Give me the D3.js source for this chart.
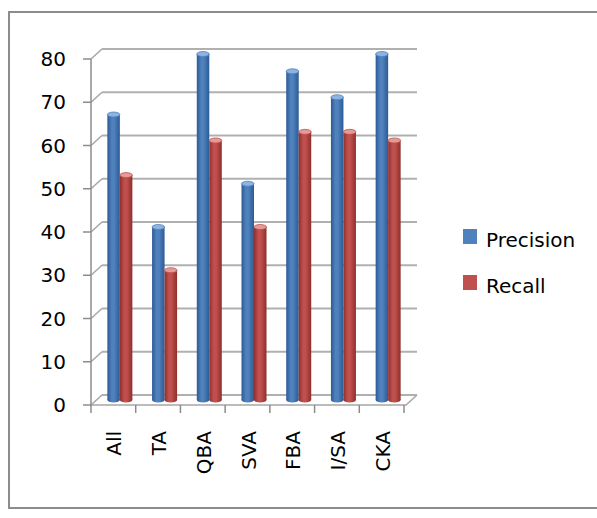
<!DOCTYPE html>
<html>
<head>
<meta charset="utf-8">
<script src="https://cdn.jsdelivr.net/npm/d3@7/dist/d3.min.js"></script>
<style>
  html, body { margin: 0; padding: 0; background: #fff; }
  svg { display: block; font-family: "DejaVu Sans", Verdana, sans-serif; }
</style>
</head>
<body>
<svg id="chart" width="597" height="518"></svg>
<script>
// Category labels and the two series (percent)
const categories = ["All", "TA", "QBA", "SVA", "FBA", "I/SA", "CKA"];
const precision = [66, 40, 80, 50, 76, 70, 80];
const recall = [52, 30, 60, 40, 62, 62, 60];
const seriesNames = ["Precision", "Recall"];
const yTicks = [0, 10, 20, 30, 40, 50, 60, 70, 80];

const colors = { Precision: "#4F81BD", Recall: "#C0504D" };
const dark = { Precision: "#2c5a94", Recall: "#8e2f2c" };
const light = { Precision: "#8db3e2", Recall: "#e39b98" };

const svg = d3.select("#chart");

// Outer frame
svg.append("rect")
  .attr("x", 9).attr("y", 12).attr("width", 620).attr("height", 496)
  .attr("fill", "none").attr("stroke", "#8c8c8c").attr("stroke-width", 2);

// Plot geometry: front plane plus a depth offset for the 3D walls
const left = 91, right = 404, yFront0 = 405, yFront80 = 59;
const depthX = 11, depthY = -10;

const x = d3.scaleBand().domain(categories).range([left, right]);
const yFront = d3.scaleLinear().domain([0, 80]).range([yFront0, yFront80]);
const yBack = v => yFront(v) + depthY;
const yMid = v => yFront(v) + depthY / 2;

const grid = svg.append("g").attr("stroke", "#a6a6a6").attr("fill", "none");

// Back-wall gridlines and the left-wall diagonals
yTicks.forEach(v => {
  grid.append("line")
    .attr("x1", left + depthX).attr("x2", right + depthX + 2)
    .attr("y1", yBack(v)).attr("y2", yBack(v))
    .attr("stroke-width", 2).attr("stroke", "#b0b0b0");
  grid.append("line")
    .attr("x1", left).attr("y1", yFront(v))
    .attr("x2", left + depthX).attr("y2", yBack(v))
    .attr("stroke-width", 1.5);
});

// Floor outline
grid.append("path")
  .attr("d", `M${left},${yFront0} L${right + 2},${yFront0} L${right + depthX + 2},${yBack(0)}`)
  .attr("stroke-width", 1.5);

// Value axis
const yAxisG = svg.append("g");
yAxisG.append("line")
  .attr("x1", left).attr("x2", left)
  .attr("y1", yFront(80)).attr("y2", yFront0 + 1)
  .attr("stroke", "#8c8c8c").attr("stroke-width", 1.5);
yAxisG.selectAll("line.tick").data(yTicks).join("line")
  .attr("class", "tick")
  .attr("x1", left - 8).attr("x2", left)
  .attr("y1", d => yFront(d)).attr("y2", d => yFront(d))
  .attr("stroke", "#8c8c8c").attr("stroke-width", 1.5);
yAxisG.selectAll("text").data(yTicks).join("text")
  .attr("x", 66).attr("y", d => yFront(d))
  .attr("text-anchor", "end").attr("dominant-baseline", "central")
  .attr("font-size", 20).attr("fill", "#000")
  .text(d => d);

// Category axis ticks at band boundaries
const bounds = categories.map(c => x(c)).concat([right]);
svg.append("g").selectAll("line").data(bounds).join("line")
  .attr("x1", d => d).attr("x2", d => d)
  .attr("y1", yFront0).attr("y2", yFront0 + 8)
  .attr("stroke", "#8c8c8c").attr("stroke-width", 1.5);

// Category labels, rotated
svg.append("g").selectAll("text").data(categories).join("text")
  .attr("transform", d => `translate(${x(d) + x.bandwidth() / 2 + 1},431) rotate(-90)`)
  .attr("text-anchor", "end").attr("dominant-baseline", "central")
  .attr("font-size", 20).attr("fill", "#000")
  .text(d => d);

// Cylinder gradients
const defs = svg.append("defs");
seriesNames.forEach(s => {
  const g = defs.append("linearGradient").attr("id", "grad-" + s)
    .attr("x1", 0).attr("x2", 1).attr("y1", 0).attr("y2", 0);
  g.append("stop").attr("offset", "0%").attr("stop-color", dark[s]);
  g.append("stop").attr("offset", "35%").attr("stop-color", colors[s]);
  g.append("stop").attr("offset", "55%").attr("stop-color", colors[s]);
  g.append("stop").attr("offset", "100%").attr("stop-color", dark[s]);
});

// Bars as cylinders sitting at mid-depth
const barW = 12.5, ry = 2.5;
const xs = d3.scaleBand().domain(seriesNames).range([0, 2 * barW]);
const bars = [];
categories.forEach((c, i) => {
  bars.push({ cat: c, s: "Precision", v: precision[i] });
  bars.push({ cat: c, s: "Recall", v: recall[i] });
});
const barG = svg.append("g");
bars.forEach(b => {
  const cx0 = x(b.cat) + x.bandwidth() / 2 + depthX / 2 + 1 - barW + xs(b.s);
  const top = yMid(b.v), base = yMid(0);
  const g = barG.append("g");
  g.append("ellipse")
    .attr("cx", cx0 + barW / 2).attr("cy", base).attr("rx", barW / 2).attr("ry", ry)
    .attr("fill", `url(#grad-${b.s})`);
  g.append("rect")
    .attr("x", cx0).attr("y", top).attr("width", barW).attr("height", base - top)
    .attr("fill", `url(#grad-${b.s})`);
  g.append("ellipse")
    .attr("cx", cx0 + barW / 2).attr("cy", top).attr("rx", barW / 2).attr("ry", ry)
    .attr("fill", light[b.s]).attr("stroke", colors[b.s]).attr("stroke-width", 0.8);
});

// Legend
const legend = svg.append("g");
seriesNames.forEach((s, i) => {
  const yy = 229 + i * 46;
  legend.append("rect")
    .attr("x", 463).attr("y", yy).attr("width", 14).attr("height", 15)
    .attr("fill", colors[s]);
  legend.append("text")
    .attr("x", 486).attr("y", yy + 18)
    .attr("font-size", 20).attr("fill", "#000")
    .text(s);
});
</script>
</body>
</html>
